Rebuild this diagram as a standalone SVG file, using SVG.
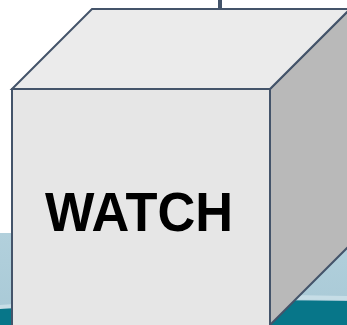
<svg xmlns="http://www.w3.org/2000/svg" width="347" height="325" viewBox="0 0 347 325">
<defs>
<style>
.edge{stroke:#44546a;stroke-width:2;stroke-linejoin:miter}
.lbl{font-family:"Liberation Sans",Arial,sans-serif;font-weight:bold;font-size:56px;fill:#000}
</style>
<linearGradient id="sky" x1="0" y1="0" x2="0" y2="1">
<stop offset="0" stop-color="#b2d0dc"/>
<stop offset="1" stop-color="#a8c9d6"/>
</linearGradient>
</defs>
<rect x="0" y="0" width="347" height="325" fill="#ffffff"/>
<rect x="0" y="233" width="347" height="92" fill="url(#sky)"/>
<path d="M0 305 Q170 292 347 296 L347 300 Q170 298 0 309 Z" fill="#c6dde6"/>
<path d="M0 309 Q170 298 347 301 L347 325 L0 325 Z" fill="#077689"/>
<g id="connectors">
<line x1="220" y1="0" x2="220" y2="10" stroke="#44546a" stroke-width="4"/>
</g>
<g id="cube">
<polygon class="edge" points="270,89 350,9 350,245 270,325" fill="#b9b9b9"/>
<polygon class="edge" points="12,89 92,9 350,9 270,89" fill="#ebebeb"/>
<rect class="edge" x="12" y="89" width="258" height="240" fill="#e6e6e6"/>
<text class="lbl" x="139" y="231" text-anchor="middle" textLength="188" lengthAdjust="spacingAndGlyphs">WATCH</text>
</g>
</svg>
